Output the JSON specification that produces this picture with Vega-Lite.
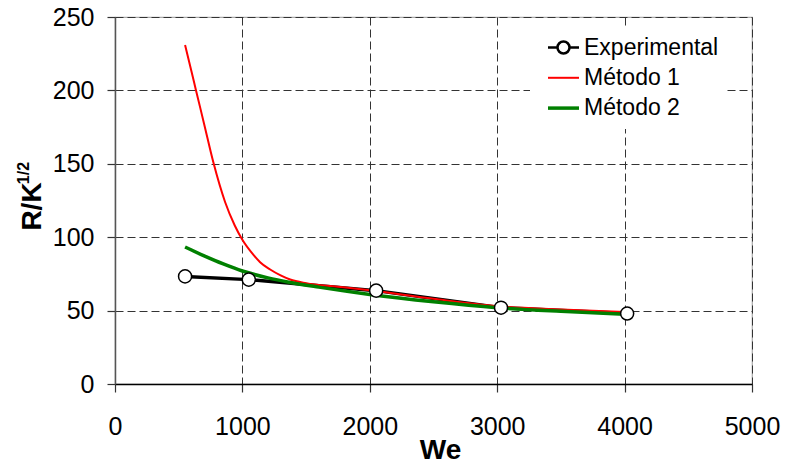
{
  "$schema": "https://vega.github.io/schema/vega-lite/v6.json",
  "width": 637,
  "height": 367,
  "autosize": "none",
  "padding": {"left": 115, "top": 17, "right": 33, "bottom": 80},
  "background": "white",
  "config": {
    "font": "Liberation Sans",
    "view": {"stroke": "#aaaaaa", "strokeWidth": 1.2},
    "axis": {
      "labelFont": "Liberation Sans", "labelFontSize": 25, "labelColor": "black",
      "titleFont": "Liberation Sans", "titleFontSize": 28, "titleFontWeight": "bold", "titleColor": "black",
      "gridColor": "#333333", "gridDash": [8, 4], "gridWidth": 1, "gridOpacity": 1,
      "tickColor": "#333333", "tickSize": 8, "tickWidth": 1.2, "domainWidth": 1.5,
      "labelFlush": false, "labelOverlap": false
    }
  },
  "data": {
    "values": [
      {"series": "Experimental", "We": 550, "R": 73.3},
      {"series": "Experimental", "We": 1050, "R": 71.1},
      {"series": "Experimental", "We": 2050, "R": 63.6},
      {"series": "Experimental", "We": 3030, "R": 52},
      {"series": "Experimental", "We": 4020, "R": 48},
      {"series": "Método 1", "We": 550, "R": 231},
      {"series": "Método 1", "We": 600, "R": 213},
      {"series": "Método 1", "We": 636, "R": 200},
      {"series": "Método 1", "We": 700, "R": 177},
      {"series": "Método 1", "We": 772, "R": 151},
      {"series": "Método 1", "We": 864, "R": 124},
      {"series": "Método 1", "We": 940, "R": 108},
      {"series": "Método 1", "We": 995, "R": 99},
      {"series": "Método 1", "We": 1087, "R": 88},
      {"series": "Método 1", "We": 1139, "R": 83},
      {"series": "Método 1", "We": 1218, "R": 78},
      {"series": "Método 1", "We": 1300, "R": 74},
      {"series": "Método 1", "We": 1375, "R": 71.2},
      {"series": "Método 1", "We": 1500, "R": 68.7},
      {"series": "Método 1", "We": 1750, "R": 66.3},
      {"series": "Método 1", "We": 2000, "R": 63.8},
      {"series": "Método 1", "We": 2500, "R": 58},
      {"series": "Método 1", "We": 3000, "R": 53},
      {"series": "Método 1", "We": 3500, "R": 50.8},
      {"series": "Método 1", "We": 4000, "R": 49},
      {"series": "Método 2", "We": 550, "R": 93.3},
      {"series": "Método 2", "We": 700, "R": 87.3},
      {"series": "Método 2", "We": 850, "R": 81.8},
      {"series": "Método 2", "We": 1000, "R": 77},
      {"series": "Método 2", "We": 1200, "R": 72.3},
      {"series": "Método 2", "We": 1375, "R": 69.2},
      {"series": "Método 2", "We": 1600, "R": 66},
      {"series": "Método 2", "We": 2000, "R": 61},
      {"series": "Método 2", "We": 2500, "R": 56},
      {"series": "Método 2", "We": 3000, "R": 52},
      {"series": "Método 2", "We": 3500, "R": 49.5},
      {"series": "Método 2", "We": 4000, "R": 47.5}
    ]
  },
  "encoding": {
    "x": {
      "field": "We", "type": "quantitative",
      "scale": {"domain": [0, 5000], "nice": false},
      "axis": {
        "values": [0, 1000, 2000, 3000, 4000, 5000], "format": "d", "title": "We",
        "labelPadding": 22, "domainColor": "black",
        "titleX": 325, "titleY": 74.5, "titleBaseline": "alphabetic", "titleAlign": "center"
      }
    },
    "y": {
      "field": "R", "type": "quantitative",
      "scale": {"domain": [0, 250], "nice": false},
      "axis": {
        "values": [0, 50, 100, 150, 200, 250], "title": "R/K",
        "labelPadding": 13, "domainColor": "#555555",
        "titleAngle": -90, "titleX": -75, "titleY": 189, "titleAlign": "center", "titleBaseline": "alphabetic"
      }
    },
    "color": {
      "field": "series", "type": "nominal",
      "scale": {"domain": ["Experimental", "Método 1", "Método 2"], "range": ["#000000", "#ff0000", "#008000"]},
      "legend": {
        "title": null, "orient": "none", "legendX": 415, "legendY": 11,
        "padding": 8, "fillColor": "white", "symbolOffset": 14, "symbolSize": 625,
        "labelFontSize": 23, "labelFont": "Liberation Sans", "labelColor": "black",
        "labelOffset": 9, "rowPadding": 6.3, "symbolStrokeWidth": 3,
        "encode": {
          "symbols": {
            "update": {
              "shape": {"signal": "datum.value === 'Experimental' ? 'M-1.24,0H-0.48M0.48,0H1.24M0.48,0A0.48,0.48 0 1 1 -0.48,0A0.48,0.48 0 1 1 0.48,0Z' : 'M-1.24,0H1.24'"},
              "fill": {"value": "white"},
              "stroke": {"signal": "datum.value === 'Experimental' ? '#000000' : datum.value === 'Método 1' ? '#ff0000' : '#008000'"},
              "strokeWidth": {"signal": "datum.value === 'Método 1' ? 2 : datum.value === 'Experimental' ? 2.5 : 3.5"},
              "opacity": {"value": 1}
            }
          }
        }
      }
    }
  },
  "layer": [
    {
      "layer": [
        {
          "transform": [{"filter": "datum.series === 'Experimental'"}],
          "mark": {"type": "line", "strokeWidth": 3.5, "interpolate": "linear"}
        },
        {
          "transform": [{"filter": "datum.series === 'Método 1'"}],
          "mark": {"type": "line", "strokeWidth": 2, "interpolate": "monotone"}
        },
        {
          "transform": [{"filter": "datum.series === 'Método 2'"}],
          "mark": {"type": "line", "strokeWidth": 3.5, "interpolate": "monotone"}
        }
      ]
    },
    {
      "transform": [{"filter": "datum.series === 'Experimental'"}],
      "mark": {"type": "point", "shape": "circle", "filled": true, "size": 170, "strokeWidth": 1.5, "opacity": 1},
      "encoding": {
        "y": {
          "field": "R", "type": "quantitative",
          "axis": {
            "orient": "left",
            "title": "1/2", "labels": false, "ticks": false, "domain": false, "grid": false,
            "titleFontSize": 16, "titleAngle": -90, "titleX": -87, "titleY": 155.5,
            "titleAlign": "center", "titleBaseline": "alphabetic"
          }
        },
        "fill": {"value": "white"},
        "stroke": {"value": "black"}
      }
    }
  ],
  "resolve": {"axis": {"y": "independent"}}
}
